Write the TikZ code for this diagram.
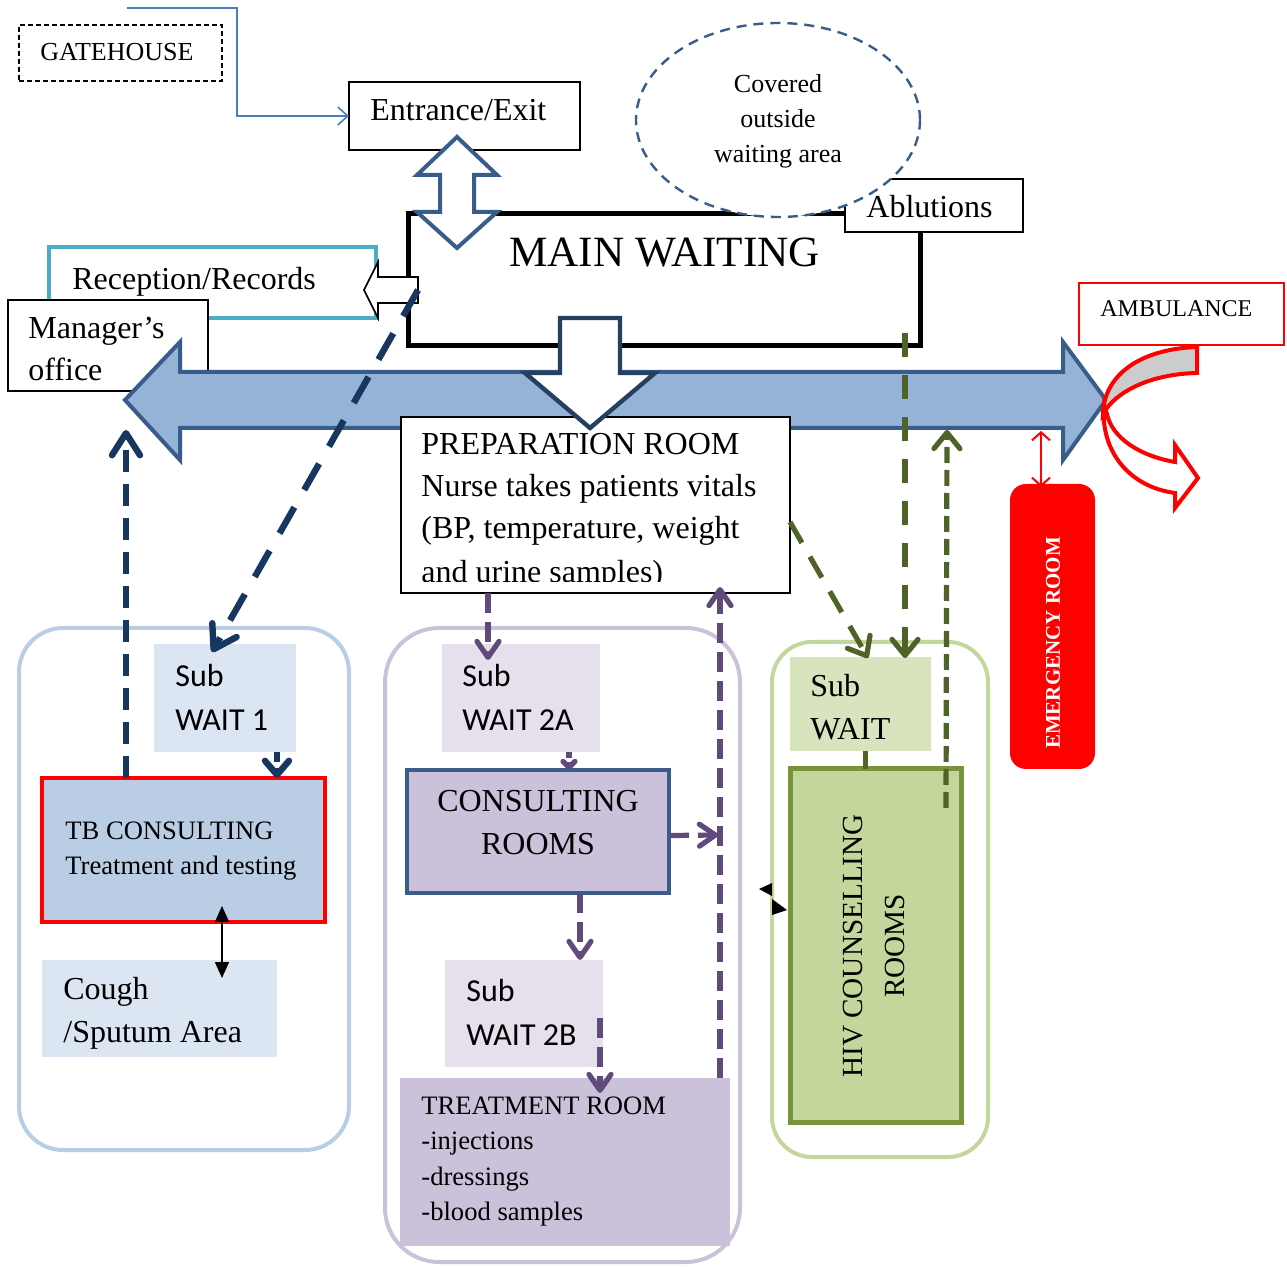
\documentclass[tikz,border=0pt]{standalone}
\usepackage{fontspec}
\setmainfont{Liberation Serif}
\newfontfamily\calfont{Carlito}
\usetikzlibrary{arrows.meta,fit,calc,shapes.geometric}
\definecolor{navyc}{HTML}{17375E}
\definecolor{arrowborder}{HTML}{385D8A}
\definecolor{arrowfill}{HTML}{95B3D7}
\definecolor{darkborder}{HTML}{243F60}
\definecolor{recep}{HTML}{4BACC6}
\definecolor{gatec}{HTML}{4A7EBB}
\definecolor{lbline}{HTML}{B9CDE5}
\definecolor{lbfill}{HTML}{DCE6F2}
\definecolor{lavline}{HTML}{CCC1DA}
\definecolor{lavfill}{HTML}{E5E0EC}
\definecolor{purp}{HTML}{604A7B}
\definecolor{grline}{HTML}{C3D69B}
\definecolor{grfill}{HTML}{D7E4BD}
\definecolor{grborder}{HTML}{77933C}
\definecolor{grdash}{HTML}{4F6228}
\definecolor{ambgray}{HTML}{CCCCCC}
\newcommand\myfs[2]{\fontsize{#1}{#2}\selectfont}
\begin{document}
\begin{tikzpicture}[x=0.5pt,y=-0.5pt,
  box/.style={inner sep=0pt,outer sep=0pt},
  thinbox/.style={box,draw=black,line width=0.6pt,fill=white},
  group/.style={box,draw,line width=2pt,rounded corners=22pt},
  lbl/.style={inner sep=0pt,anchor=base west},
  clbl/.style={inner sep=0pt,anchor=base},
  navyl/.style={draw=navyc,line width=3.2pt},
  purpl/.style={draw=purp,line width=2.6pt,dash pattern=on 10pt off 4.5pt,-{Straight Barb[length=8pt,width=11pt,round]}},
  greenl/.style={draw=grdash,line width=2.6pt,-{Straight Barb[length=8pt,width=13pt,round]}},
  t16/.style={font=\myfs{16}{19}},
  t13/.style={font=\myfs{13.3}{16}},
  c16/.style={font=\calfont\myfs{16}{19}}
]
\useasboundingbox (0,0) rectangle (1287,1267);
\fill[white] (0,0) rectangle (1287,1267);

% group outlines
\node[group,draw=lbline,fit={(19,628)(349,1150)}] (gL) {};
\node[group,draw=lavline,rounded corners=27pt,fit={(385,628)(740,1262)}] (gM) {};
\node[group,draw=grline,rounded corners=20pt,fit={(772,642)(988,1157)}] (gR) {};

% gatehouse and entrance
\node[box,draw=black,line width=0.6pt,dash pattern=on 2.5pt off 1.5pt,fit={(19,25)(222,81)}] (gate) {};
\node[lbl,font=\myfs{13}{15}] (gateT) at (40,61) {GATEHOUSE};
\node[thinbox,fit={(349,82)(580,150)}] (entr) {};
\node[lbl,t16] (entrT) at (370,121) {Entrance/Exit};
\coordinate (gstart) at (127,8);
\draw[gatec,line width=0.8pt,-{Straight Barb[length=5pt,width=9pt]}] (gstart) -- (237,8) -- (237,116) -- (entr.west);

% main waiting, ablutions, covered area
\node[box,draw=black,line width=2.5pt,fill=white,fit={(408,214)(920,346)}] (mw) {};
\node[lbl,font=\myfs{21.6}{25}] (mwT) at (509,267) {MAIN WAITING};
\node[thinbox,fit={(845,179)(1023,232)}] (abl) {};
\node[lbl,t16] (ablT) at (866,218) {Ablutions};
\node[ellipse,draw=arrowborder,line width=1.2pt,dash pattern=on 5pt off 3.5pt,fill=white,minimum width=142pt,minimum height=97pt,inner sep=0pt] (cov) at (778,120) {};
\node[clbl,font=\myfs{13}{15}] (cov1) at (778,93) {Covered};
\node[clbl,font=\myfs{13}{15}] (cov2) at (778,128) {outside};
\node[clbl,font=\myfs{13}{15}] (cov3) at (778,163) {waiting area};

% up-down block arrow
\draw[arrowborder,line width=2pt,fill=white] (457,137) -- (497,175) -- (474,175) -- (474,212) -- (497,212) -- (457,248) -- (417,212) -- (440,212) -- (440,175) -- (417,175) -- cycle;

% reception and manager
\node[box,draw=recep,line width=2pt,fit={(49,247)(376,318)}] (rec) {};
\node[lbl,t16] (recT) at (72,290) {Reception/Records};
\node[thinbox,fit={(8,300)(208,391)}] (mgr) {};
\node[lbl,t16] (mgrT1) at (28,339) {Manager’s};
\node[lbl,t16] (mgrT2) at (28,381) {office};
\draw[black,line width=0.8pt,fill=white] (364,290) -- (378,262) -- (378,277) -- (418,277) -- (418,303) -- (378,303) -- (378,318) -- cycle;

% big horizontal double arrow
\draw[arrowborder,line width=2pt,fill=arrowfill] (125,400) -- (180,342) -- (180,372) -- (1063,372) -- (1063,342) -- (1106,400) -- (1063,460) -- (1063,428) -- (180,428) -- (180,460) -- cycle;

% preparation room
\node[thinbox,fit={(401,417)(790,593)}] (prep) {};
\begin{scope}
\clip (401,417) rectangle (790,582);
\node[lbl,t16] (prepT1) at (421,455) {PREPARATION ROOM};
\node[lbl,t16] (prepT2) at (421,497) {Nurse takes patients vitals};
\node[lbl,t16] (prepT3) at (421,539) {(BP, temperature, weight};
\node[lbl,t16] (prepT4) at (421,583) {and urine samples)};
\end{scope}
\draw[darkborder,line width=2.2pt,fill=white] (560,318) -- (620,318) -- (620,373) -- (655,373) -- (590,428) -- (525,373) -- (560,373) -- cycle;

% ambulance and curved arrow
\draw[red,line width=2pt,fill=white] (1104,405) .. controls (1100,452) and (1130,487) .. (1175,493) -- (1175,508) -- (1198,478) -- (1175,445) -- (1175,462) .. controls (1140,456) and (1112,438) .. (1107,414) -- cycle;
\draw[red,line width=2pt,fill=ambgray] (1197,347) .. controls (1140,349) and (1104,375) .. (1103,414) .. controls (1115,392) and (1150,374) .. (1197,373) -- cycle;
\node[box,draw=red,line width=0.7pt,fill=white,fit={(1079,283)(1284,345)}] (amb) {};
\node[lbl,font=\myfs{12}{14}] (ambT) at (1100,317) {AMBULANCE};

% emergency room
\node[box,fill=red,rounded corners=8pt,fit={(1010,484)(1095,769)}] (er) {};
\node[rotate=90,inner sep=0pt,text=white,font=\bfseries\myfs{10.5}{12}] (erT) at (1053,643) {EMERGENCY ROOM};
\coordinate (redtop) at (1041,431);
\draw[red,line width=1pt,{Straight Barb[length=4pt,width=9pt]}-{Straight Barb[length=4pt,width=9pt]}] (redtop) -- ($(er.north west)+(31,3)$);

% left group contents
\node[box,fill=lbfill,fit={(154,644)(296,752)}] (sw1) {};
\node[lbl,c16] (sw1T1) at (175,687) {Sub};
\node[lbl,c16] (sw1T2) at (175,731) {WAIT 1};
\node[box,draw=red,line width=2pt,fill=lbline,fit={(42,778)(325,922)}] (tb) {};
\node[lbl,t13] (tbT1) at (65,840) {TB CONSULTING};
\node[lbl,t13] (tbT2) at (65,875) {Treatment and testing};
\node[box,fill=lbfill,fit={(42,960)(277,1057)}] (cough) {};
\node[lbl,t16] (coughT1) at (63,1000) {Cough};
\node[lbl,t16] (coughT2) at (63,1042) {/Sputum Area};
\draw[black,line width=0.8pt,{Triangle[length=8pt,width=7pt]}-{Triangle[length=8pt,width=7pt]}] ($(tb.south west)+(180,-16)$) -- ($(cough.north west)+(180,18)$);

% middle group contents
\node[box,fill=lavfill,fit={(442,644)(600,752)}] (sw2a) {};
\node[lbl,c16] (sw2aT1) at (462,687) {Sub};
\node[lbl,c16] (sw2aT2) at (462,731) {WAIT 2A};
\node[box,draw=arrowborder,line width=2pt,fill=lavline,fit={(407,770)(669,893)}] (cons) {};
\node[clbl,t16] (consT1) at (538,812) {CONSULTING};
\node[clbl,t16] (consT2) at (538,855) {ROOMS};
\node[box,fill=lavfill,fit={(445,960)(603,1067)}] (sw2b) {};
\node[lbl,c16] (sw2bT1) at (466,1001) {Sub};
\node[lbl,c16] (sw2bT2) at (466,1045) {WAIT 2B};
\node[box,fill=lavline,fit={(400,1078)(730,1246)}] (treat) {};
\node[lbl,t13] (trT1) at (421,1114) {TREATMENT ROOM};
\node[lbl,t13] (trT2) at (421,1149) {-injections};
\node[lbl,t13] (trT3) at (421,1185) {-dressings};
\node[lbl,t13] (trT4) at (421,1220) {-blood samples};

% right group contents
\node[box,fill=grfill,fit={(790,657)(931,751)}] (sw3) {};
\node[lbl,t16] (sw3T1) at (810,697) {Sub};
\node[lbl,t16] (sw3T2) at (810,740) {WAIT};
\node[box,draw=grborder,line width=2.5pt,fill=grline,fit={(790,769)(961,1122)}] (hiv) {};
\node[rotate=90,inner sep=0pt,font=\myfs{14.6}{16}] (hivT1) at (853,946) {HIV COUNSELLING};
\node[rotate=90,inner sep=0pt,font=\myfs{14.6}{16}] (hivT2) at (895,946) {ROOMS};

% navy dashed connectors
\coordinate (navytop) at (126,430);
\draw[navyl,dash pattern=on 15pt off 10pt,-{Straight Barb[length=11pt,width=14pt,round]}] ($(mw.west)+(10,10)$) -- ($(sw1.north west)+(58,8)$);
\draw[navyl,dash pattern=on 11pt off 6pt,-{Straight Barb[length=11pt,width=14pt,round]}] ($(tb.north west)+(84,0)$) -- (navytop);
\draw[navyl,dash pattern=on 5pt off 3pt,-{Straight Barb[length=7pt,width=12pt,round]}] ($(sw1.south west)+(123,0)$) -- ($(tb.north west)+(235,0)$);

% purple dashed connectors
\coordinate (p3end) at (718,835);
\draw[purpl] ($(prep.south west)+(87,0)$) -- ($(sw2a.north west)+(46,16)$);
\draw[purp,line width=2.6pt,dash pattern=on 3pt off 2pt,-{Straight Barb[length=3pt,width=6pt,round]}] ($(sw2a.south west)+(127,0)$) -- ($(cons.north west)+(162,0)$);
\draw[purpl] ($(cons.east)+(0,4)$) -- (p3end);
\draw[purpl] ($(treat.north west)+(320,0)$) -- ($(prep.south west)+(319,-6)$);
\draw[purpl] ($(cons.south west)+(173,0)$) -- ($(sw2b.north west)+(135,0)$);
\draw[purpl] ($(sw2b.north west)+(155,58)$) -- ($(treat.north west)+(200,15)$);

% green connectors
\coordinate (gtop) at (947,430);
\draw[greenl,dash pattern=on 12pt off 8pt] ($(prep.east)+(0,17)$) -- ($(sw3.north west)+(78,1)$);
\draw[greenl,dash pattern=on 12pt off 9pt] ($(mw.south east)+(-15,-13)$) -- ($(sw3.north west)+(115,1)$);
\draw[greenl,dash pattern=on 8pt off 3.5pt] ($(hiv.north east)+(-15,39)$) -- (gtop);
\draw[grdash,line width=2.5pt] ($(sw3.south west)+(75,0)$) -- ($(hiv.north west)+(75,0)$);

% small black arrowheads
\fill[black] (759,889) -- (772,883) -- (772,896) -- cycle;
\fill[black] (787,910) -- (772,899) -- (772,915) -- cycle;
\end{tikzpicture}
\end{document}
